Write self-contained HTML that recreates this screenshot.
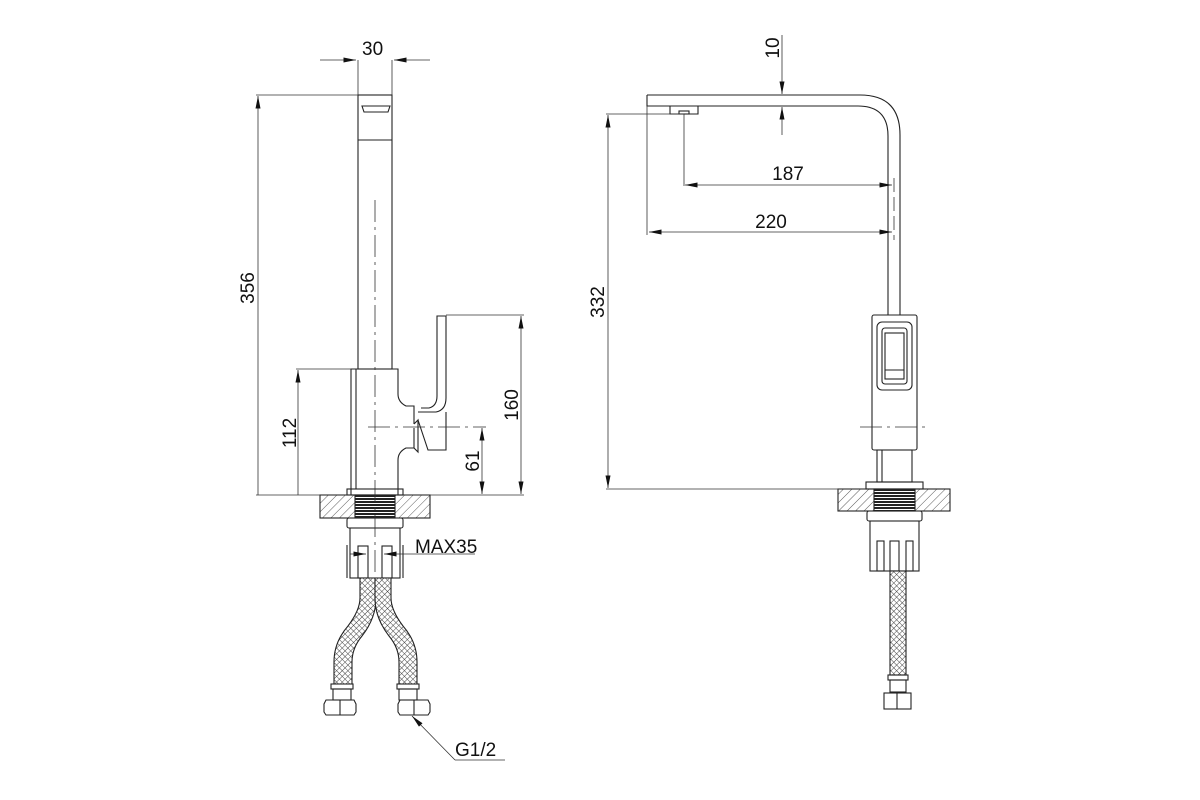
<!DOCTYPE html>
<html><head><meta charset="utf-8"><style>body{margin:0;background:#fff}svg{display:block}text{font-family:"Liberation Sans",sans-serif;fill:#111}</style></head><body>
<svg width="1200" height="800" viewBox="0 0 1200 800" xmlns="http://www.w3.org/2000/svg">
<defs>
<pattern id="h" width="6" height="6" patternUnits="userSpaceOnUse" patternTransform="rotate(45)"><line x1="0" y1="0" x2="0" y2="6" stroke="#333" stroke-width="0.8"/></pattern>
<pattern id="m" width="4" height="4" patternUnits="userSpaceOnUse" patternTransform="rotate(45)"><rect width="4" height="4" fill="#fff"/><path d="M0 0H4M0 0V4" stroke="#444" stroke-width="1"/></pattern>
<pattern id="t" width="4" height="3" patternUnits="userSpaceOnUse"><rect width="4" height="3" fill="#fff"/><rect width="4" height="2" fill="#222"/></pattern>
<marker id="a" viewBox="0 0 10 4" refX="10" refY="2" markerWidth="14" markerHeight="5" orient="auto-start-reverse" markerUnits="userSpaceOnUse"><path d="M0 0L10 2L0 4z" fill="#111"/></marker>
</defs>
<g fill="none" stroke="#222" stroke-width="1.1">
<!-- LEFT VIEW -->
<rect x="358" y="95" width="34" height="274"/>
<line x1="358" y1="140" x2="392" y2="140"/>
<path d="M362 106h28l-2 6h-24z"/>
<path d="M351 495V369h47v25q0 8 8 12h8v18" />
<line x1="356" y1="369" x2="356" y2="489"/>
<path d="M398 495V460q0-8 8-12h8v-20"/>
<path d="M414 424l4-4v32l-4-4"/>
<path d="M418 412h18q10-2 10-14V316h-9v80q0 10-8 12h-8"/>
<path d="M418 420l10 30h18V412"/>
<rect x="347" y="489" width="56" height="6"/>
<rect x="320" y="495" width="110" height="23" fill="url(#h)"/>
<rect x="355" y="495" width="40" height="23" fill="url(#t)"/>
<rect x="347" y="518" width="56" height="10" rx="2"/>
<rect x="350" y="528" width="50" height="50"/>
<line x1="347" y1="545" x2="347" y2="578"/><line x1="403" y1="545" x2="403" y2="578"/>
<rect x="358" y="546" width="10" height="32"/><rect x="382" y="546" width="10" height="32"/>
<path d="M360 578v20q0 12-12 28q-14 16-14 36v22h18v-22q0-14 10-26q14-18 14-38v-20z" fill="url(#m)"/>
<path d="M375 578v20q0 20 14 38q10 12 10 26v22h18v-22q0-20-14-36q-12-16-12-28v-20z" fill="url(#m)"/>
<rect x="331" y="684" width="22" height="5"/><rect x="333" y="689" width="18" height="11"/>
<path d="M326 700h28l2 4v8l-2 3h-28l-2-3v-8z"/><line x1="340" y1="700" x2="340" y2="715"/>
<rect x="397" y="684" width="22" height="5"/><rect x="399" y="689" width="18" height="11"/>
<path d="M400 700h28l2 4v8l-2 3h-28l-2-3v-8z"/><line x1="414" y1="700" x2="414" y2="715"/>
<!-- RIGHT VIEW -->
<path d="M647 95H860q40 0 40 40V315"/>
<path d="M647 95v11H858q30 0 30 30V315"/>
<path d="M670 106v8h28v-8"/><rect x="679" y="111" width="10" height="3"/>
<rect x="872" y="315" width="45" height="135" rx="2"/>
<rect x="877" y="322" width="35" height="68" rx="5"/>
<rect x="882" y="328" width="25" height="56" rx="3"/>
<rect x="885" y="333" width="19" height="46"/>
<line x1="885" y1="370" x2="904" y2="370"/>
<rect x="877" y="450" width="35" height="32"/>
<line x1="882" y1="450" x2="882" y2="482"/>
<rect x="866" y="482" width="57" height="7"/>
<rect x="838" y="489" width="112" height="22" fill="url(#h)"/>
<rect x="874" y="489" width="41" height="22" fill="url(#t)"/>
<rect x="867" y="511" width="55" height="10" rx="2"/>
<rect x="870" y="521" width="49" height="50"/>
<rect x="877" y="541" width="7" height="30"/><rect x="890" y="541" width="9" height="30"/><rect x="906" y="541" width="7" height="30"/>
<rect x="890" y="571" width="16" height="104" fill="url(#m)"/>
<rect x="888" y="675" width="20" height="5"/><rect x="890" y="680" width="16" height="12"/>
<rect x="884" y="693" width="27" height="16"/><line x1="897" y1="693" x2="897" y2="709"/>
</g>
<g fill="none" stroke="#333" stroke-width="0.8">
<line x1="375" y1="200" x2="375" y2="575" stroke-dasharray="22 5 3 5"/>
<line x1="368" y1="427" x2="480" y2="427" stroke-dasharray="22 5 3 5"/>
<line x1="860" y1="427" x2="930" y2="427" stroke-dasharray="22 5 3 5"/>
<line x1="894" y1="178" x2="894" y2="240" stroke-dasharray="14 5"/>
<!-- dims left -->
<line x1="358" y1="60" x2="358" y2="95"/><line x1="392" y1="60" x2="392" y2="95"/>
<line x1="320" y1="60" x2="356" y2="60" marker-end="url(#a)"/><line x1="430" y1="60" x2="394" y2="60" marker-end="url(#a)"/>
<line x1="256" y1="95" x2="358" y2="95"/><line x1="256" y1="495" x2="351" y2="495"/>
<line x1="258" y1="495" x2="258" y2="96" marker-end="url(#a)"/>
<line x1="296" y1="369" x2="351" y2="369"/>
<line x1="298" y1="495" x2="298" y2="370" marker-end="url(#a)"/>
<line x1="446" y1="315" x2="524" y2="315"/><line x1="403" y1="495" x2="524" y2="495"/>
<line x1="521" y1="316" x2="521" y2="494" marker-start="url(#a)" marker-end="url(#a)"/>
<line x1="480" y1="427" x2="486" y2="427"/>
<line x1="482" y1="428" x2="482" y2="494" marker-start="url(#a)" marker-end="url(#a)"/>
<line x1="350" y1="554" x2="366" y2="554" marker-end="url(#a)"/><line x1="475" y1="554" x2="384" y2="554" marker-end="url(#a)"/>
<line x1="353" y1="708" x2="353" y2="708"/>
<line x1="505" y1="760" x2="455" y2="760"/><line x1="455" y1="760" x2="412" y2="716" marker-end="url(#a)"/>
<!-- dims right -->
<line x1="606" y1="114" x2="684" y2="114"/><line x1="606" y1="489" x2="866" y2="489"/>
<line x1="608" y1="115" x2="608" y2="488" marker-start="url(#a)" marker-end="url(#a)"/>
<line x1="684" y1="114" x2="684" y2="186"/>
<line x1="685" y1="185" x2="892" y2="185" marker-start="url(#a)" marker-end="url(#a)"/>
<line x1="647" y1="106" x2="647" y2="235"/>
<line x1="649" y1="232" x2="892" y2="232" marker-start="url(#a)" marker-end="url(#a)"/>
<line x1="782" y1="35" x2="782" y2="94" marker-end="url(#a)"/>
<line x1="782" y1="135" x2="782" y2="107" marker-end="url(#a)"/>
</g>
<g font-size="19">
<text x="362" y="55">30</text>
<text x="262" y="296" transform="rotate(-90 254 296)" text-anchor="middle" x1="0">356</text>
<text x="296" y="433" transform="rotate(-90 296 433)" text-anchor="middle">112</text>
<text x="518" y="405" transform="rotate(-90 518 405)" text-anchor="middle">160</text>
<text x="479" y="461" transform="rotate(-90 479 461)" text-anchor="middle">61</text>
<text x="415" y="553">MAX35</text>
<text x="455" y="756">G1/2</text>
<text x="604" y="302" transform="rotate(-90 604 302)" text-anchor="middle">332</text>
<text x="788" y="180" text-anchor="middle">187</text>
<text x="771" y="228" text-anchor="middle">220</text>
<text x="779" y="48" transform="rotate(-90 779 48)" text-anchor="middle">10</text>
</g>
</svg>
</body></html>
